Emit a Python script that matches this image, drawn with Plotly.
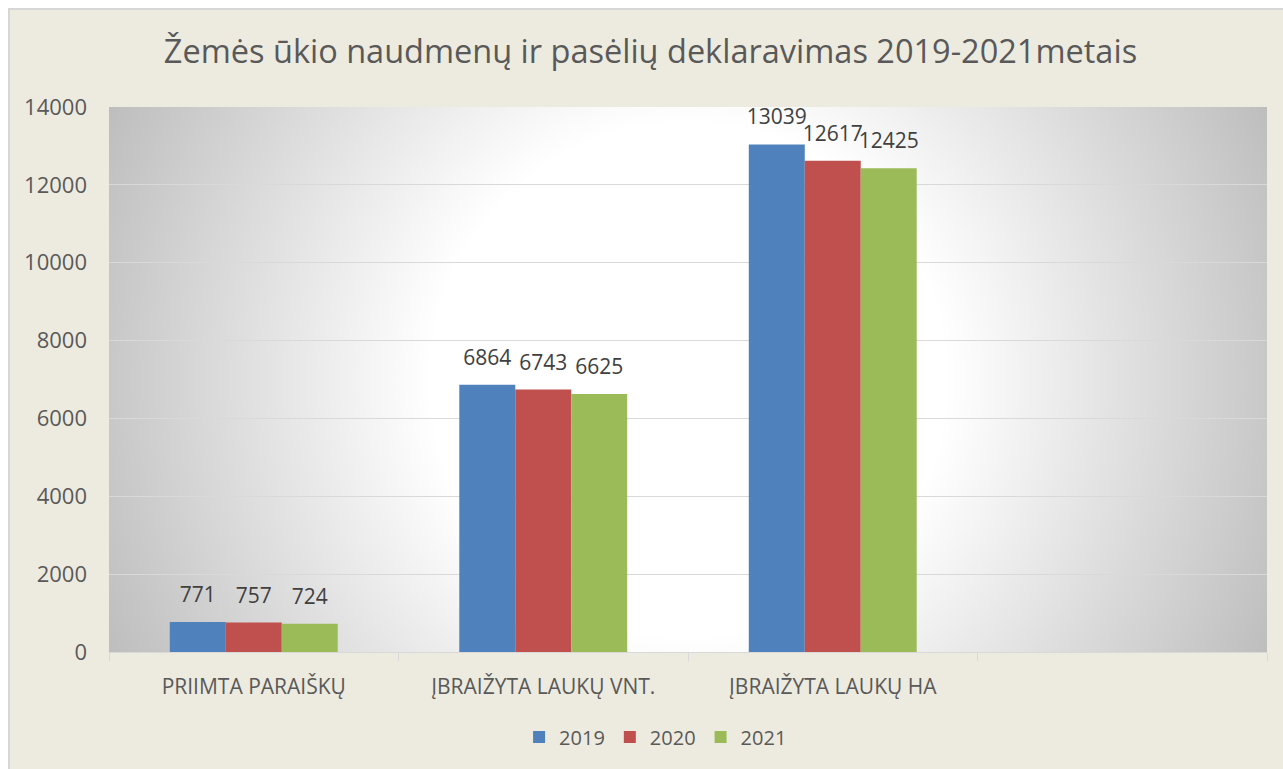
import base64
import struct
import zlib

import numpy as np
import plotly.graph_objects as go

# ---- data -------------------------------------------------------------
categories = ["PRIIMTA PARAIŠKŲ", "ĮBRAIŽYTA LAUKŲ VNT.", "ĮBRAIŽYTA LAUKŲ HA", " "]
series_names = ["2019", "2020", "2021"]
values_2019 = [771, 6864, 13039, None]
values_2020 = [757, 6743, 12617, None]
values_2021 = [724, 6625, 12425, None]
y_ticks = [0, 2000, 4000, 6000, 8000, 10000, 12000, 14000]

series_values = [values_2019, values_2020, values_2021]
colors = ["#4F81BD", "#C0504D", "#9BBB59"]

W, H = 1283, 769
M_L, M_R, M_T, M_B = 109, 16, 107, 117
PW, PH = W - M_L - M_R, H - M_T - M_B
GAP = 0.42


# ---- radial grey-to-white gradient for the plotting area ---------------
def gray_png(arr):
    h, w = arr.shape
    raw = b"".join(b"\x00" + arr[r].tobytes() for r in range(h))

    def chunk(tag, data):
        c = struct.pack(">I", len(data)) + tag + data
        return c + struct.pack(">I", zlib.crc32(tag + data) & 0xFFFFFFFF)

    png = b"\x89PNG\r\n\x1a\n"
    png += chunk(b"IHDR", struct.pack(">IIBBBBB", w, h, 8, 0, 0, 0, 0))
    png += chunk(b"IDAT", zlib.compress(raw, 9))
    png += chunk(b"IEND", b"")
    return "data:image/png;base64," + base64.b64encode(png).decode()


yy, xx = np.mgrid[0:PH, 0:PW].astype(float)
dist = np.hypot(xx - PW / 2, yy - PH / 2)
t = np.clip((dist - 260) / (640 - 260), 0, 1)
shade = (255 - t * 65).astype(np.uint8)
bg_src = gray_png(shade)

# ---- figure -------------------------------------------------------------
fig = go.Figure()
for name, vals, col in zip(series_names, series_values, colors):
    fig.add_trace(go.Bar(
        x=categories,
        y=vals,
        name=name,
        offsetgroup=name,
        marker=dict(color=col, line=dict(width=0)),
        hoverinfo="skip",
    ))

# value labels, grouped like the bars; an invisible marker lifts each label
for name, vals in zip(series_names, series_values):
    fig.add_trace(go.Scatter(
        x=categories,
        y=vals,
        offsetgroup=name,
        mode="markers+text",
        text=[("" if v is None else str(v)) for v in vals],
        textposition="top center",
        textfont=dict(family="Open Sans", size=21, color="#404040"),
        marker=dict(size=22, opacity=0),
        cliponaxis=False,
        showlegend=False,
        hoverinfo="skip",
    ))

fig.update_layout(
    width=W,
    height=H,
    margin=dict(l=M_L, r=M_R, t=M_T, b=M_B, pad=0),
    paper_bgcolor="#EDEBE0",
    plot_bgcolor="rgba(0,0,0,0)",
    barmode="group",
    bargap=GAP,
    bargroupgap=0,
    scattermode="group",
    scattergap=GAP,
    font=dict(family="Open Sans", color="#595959"),
    title=dict(
        text="Žemės ūkio naudmenų ir pasėlių deklaravimas 2019-2021metais",
        font=dict(family="Open Sans", size=32.5, color="#595959"),
        x=0.507, xanchor="center",
        y=1 - 52 / H, yanchor="middle",
    ),
    showlegend=True,
    legend=dict(
        orientation="h",
        x=0.472, xanchor="center",
        y=-(737 - (H - M_B)) / PH, yanchor="middle",
        font=dict(family="Open Sans", size=20, color="#595959"),
        bgcolor="rgba(0,0,0,0)",
        itemwidth=30,
        traceorder="normal",
    ),
    images=[dict(
        source=bg_src,
        xref="paper", yref="paper",
        x=0, y=1, sizex=1, sizey=1,
        xanchor="left", yanchor="top",
        sizing="stretch",
        layer="below",
    )],
    shapes=[
        # white page strips outside the chart frame
        dict(type="rect", xref="paper", yref="paper",
             x0=-M_L / PW - 0.01, x1=1 + M_R / PW + 0.01,
             y0=1 + (M_T - 8) / PH, y1=1 + M_T / PH + 0.01,
             fillcolor="white", line=dict(width=0), layer="above"),
        dict(type="rect", xref="paper", yref="paper",
             x0=-M_L / PW - 0.01, x1=-(M_L - 8) / PW,
             y0=-M_B / PH - 0.01, y1=1 + M_T / PH + 0.01,
             fillcolor="white", line=dict(width=0), layer="above"),
        # frame border
        dict(type="line", xref="paper", yref="paper",
             x0=-(M_L - 8) / PW, x1=1 + M_R / PW + 0.01,
             y0=1 + (M_T - 9) / PH, y1=1 + (M_T - 9) / PH,
             line=dict(color="#D6D6D6", width=2), layer="above"),
        dict(type="line", xref="paper", yref="paper",
             x0=-(M_L - 9) / PW, x1=-(M_L - 9) / PW,
             y0=-M_B / PH - 0.01, y1=1 + (M_T - 8) / PH,
             line=dict(color="#D6D6D6", width=2), layer="above"),
    ],
)

fig.update_xaxes(
    type="category",
    categoryorder="array",
    categoryarray=categories,
    showgrid=False,
    showline=True,
    linecolor="#D9D9D9",
    linewidth=1,
    ticks="outside",
    tickson="boundaries",
    ticklen=8,
    tickcolor="#D9D9D9",
    tickfont=dict(family="Open Sans", size=21, color="#595959"),
    ticklabelstandoff=16,
    zeroline=False,
)

fig.update_yaxes(
    range=[0, 14000],
    tickvals=y_ticks,
    ticktext=[str(v) for v in y_ticks],
    showgrid=True,
    gridcolor="#D9D9D9",
    gridwidth=1,
    showline=False,
    zeroline=False,
    ticks="",
    tickfont=dict(family="Open Sans", size=22, color="#595959"),
    ticklabelstandoff=21,
)

fig.write_html("out.html")
